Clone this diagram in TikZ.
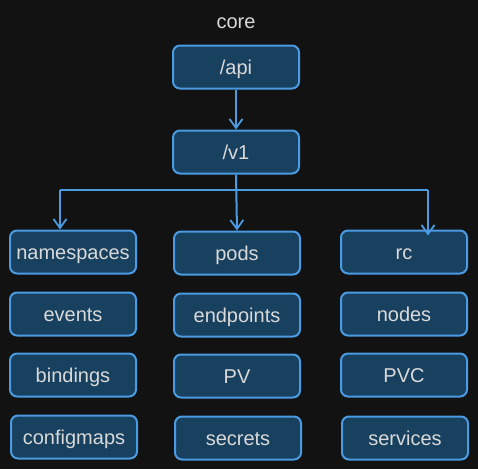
\documentclass[tikz,border=0pt]{standalone}
\usepackage{fontspec}
\setmainfont{Liberation Sans}
\usepackage{xcolor}
\usetikzlibrary{arrows.meta}

\definecolor{bgdark}{HTML}{121212}
\definecolor{boxfill}{HTML}{18405F}
\definecolor{boxline}{HTML}{4A9BE2}
\definecolor{labeltext}{HTML}{D9D9D9}

\tikzset{
	box/.style={draw=boxline, fill=boxfill, line width=2pt, rounded corners=7pt,
		minimum width=126pt, minimum height=43pt, text=labeltext, text height=17pt, text depth=3pt,
		font=\fontsize{20}{22}\selectfont},
	link/.style={draw=boxline, line width=2pt},
	arrow/.style={link, -{Straight Barb[length=9pt,width=13pt,line width=1.8pt]}}
}

\begin{document}
\begin{tikzpicture}[x=1pt,y=-1pt]
				\fill[bgdark] (0,0) rectangle (478,469);
				\useasboundingbox (0,0) rectangle (478,469);
				\node[text=labeltext, text height=17pt, text depth=3pt, font=\fontsize{20}{22}\selectfont] (core) at (236,21) {core};
				\node[box] (api) at (236,67) {/api};
				\node[box] (v1) at (236,152) {/v1};
				
				\foreach \name/\x/\y/\txt in {
					namespaces/73/252/namespaces,
					pods/237/253/pods,
					rc/404/252/rc,
					events/73/314/events,
					endpoints/237/315/endpoints,
					nodes/404/314/nodes,
					bindings/73/375/bindings,
					pv/237/376/PV,
					pvc/404/375/PVC,
					configmaps/74/437/configmaps,
					secrets/238/438/secrets,
					services/405/438/services
				}
				{
					\node[box] (\name) at (\x,\y) {\txt};
				}
				
				\draw[arrow] (api) -- (v1);
				\coordinate (busL) at (60,190);
				\coordinate (busR) at (428,190);
				\draw[link] (busL) -- (busR);
				\draw[arrow] (busL) -- (busL |- namespaces.north);
				\draw[arrow] (v1.south) -- (pods.north);
				\draw[arrow] (busR) -- ([yshift=-6pt]busR |- rc.north);
			\end{tikzpicture}
\end{document}
